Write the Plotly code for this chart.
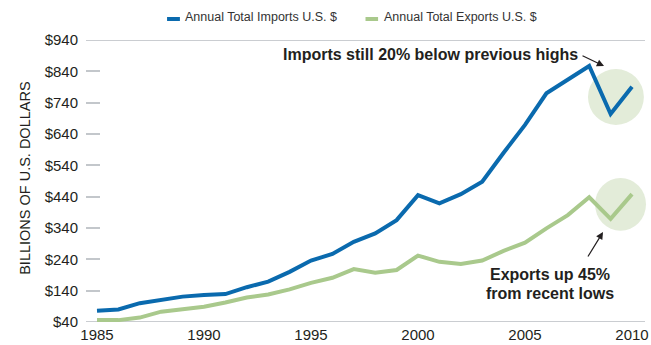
import plotly.graph_objects as go

years = list(range(1985, 2011))
imports = [76, 80, 100, 112, 121, 126, 129, 151, 169, 200, 236, 257, 296, 323,
           365, 445, 419, 448, 488, 580, 669, 770, 814, 857, 704, 791]
exports = [46, 46, 54, 73, 81, 89, 102, 118, 128, 144, 165, 181, 209, 197,
           206, 252, 232, 225, 236, 267, 293, 339, 381, 438, 369, 448]
y_ticks = [40, 140, 240, 340, 440, 540, 640, 740, 840, 940]
y_tick_labels = ["$" + str(v) for v in y_ticks]
x_ticks = [1985, 1990, 1995, 2000, 2005, 2010]
series_names = ["Annual Total Imports U.S. $", "Annual Total Exports U.S. $"]

BLUE = "#0a6aae"
GREEN = "#a9c98c"
CIRCLE = "#e3ecd9"
TXT = "#231f20"
FONT = "Liberation Sans, Arial, sans-serif"

fig = go.Figure()
fig.add_trace(go.Scatter(x=years, y=imports, mode="lines", name=series_names[0],
                         line=dict(color=BLUE, width=4)))
fig.add_trace(go.Scatter(x=years, y=exports, mode="lines", name=series_names[1],
                         line=dict(color=GREEN, width=4)))

shapes = [
    # highlight circles
    dict(type="circle", xref="paper", yref="paper", x0=0.898, x1=0.998, y0=0.6986, y1=0.897,
         fillcolor=CIRCLE, line=dict(width=0), layer="below"),
    dict(type="circle", xref="paper", yref="paper", x0=0.9106, x1=1.0018, y0=0.3238, y1=0.5106,
         fillcolor=CIRCLE, line=dict(width=0), layer="below"),
    # top and bottom rules
    dict(type="line", xref="paper", yref="y", x0=0, x1=1, y0=940, y1=940,
         line=dict(color="#b9bdc2", width=1.5), layer="below"),
    dict(type="line", xref="paper", yref="y", x0=0, x1=1, y0=40, y1=40,
         line=dict(color="#b9bdc2", width=1.5), layer="below"),
    # legend keys
    dict(type="line", xref="paper", yref="paper", x0=0.145, x1=0.168, y0=1.0745, y1=1.0745,
         line=dict(color=BLUE, width=4)),
    dict(type="line", xref="paper", yref="paper", x0=0.5, x1=0.5225, y0=1.0745, y1=1.0745,
         line=dict(color=GREEN, width=4)),
]

annotations = [
    dict(xref="paper", yref="paper", x=0.1735, y=1.0826, xanchor="left", yanchor="middle",
         text=series_names[0], showarrow=False, font=dict(family=FONT, size=12.5, color="#333333")),
    dict(xref="paper", yref="paper", x=0.5295, y=1.0826, xanchor="left", yanchor="middle",
         text=series_names[1], showarrow=False, font=dict(family=FONT, size=12.5, color="#333333")),
    dict(xref="paper", yref="paper", x=0.6154, y=0.950, xanchor="center", yanchor="middle",
         text="<b>Imports still 20% below previous highs</b>", showarrow=False,
         font=dict(family=FONT, size=16, color=TXT)),
    dict(xref="paper", yref="paper", x=0.9267, y=0.9078, text="", showarrow=True,
         ax=-23, ay=-11, arrowhead=2, arrowsize=1.2, arrowwidth=1.2, arrowcolor=TXT),
    dict(xref="paper", yref="paper", x=0.830, y=0.1667, xanchor="center", yanchor="middle",
         text="<b>Exports up 45%</b>", showarrow=False,
         font=dict(family=FONT, size=16, color=TXT)),
    dict(xref="paper", yref="paper", x=0.830, y=0.1028, xanchor="center", yanchor="middle",
         text="<b>from recent lows</b>", showarrow=False,
         font=dict(family=FONT, size=16, color=TXT)),
    dict(xref="paper", yref="paper", x=0.9249, y=0.319, text="", showarrow=True,
         ax=-16, ay=26, arrowhead=2, arrowsize=1.2, arrowwidth=1.2, arrowcolor=TXT),
    dict(xref="paper", yref="paper", x=-0.108, y=0.51, xanchor="center", yanchor="middle",
         text="BILLIONS OF U.S. DOLLARS", textangle=-90, showarrow=False,
         font=dict(family=FONT, size=14.5, color=TXT)),
]

fig.update_layout(
    width=651, height=345,
    margin=dict(l=86, r=6, t=40, b=23),
    paper_bgcolor="white", plot_bgcolor="white",
    showlegend=False,
    shapes=shapes, annotations=annotations,
    font=dict(family=FONT, color=TXT),
    xaxis=dict(range=[1984.486, 2010.607], tickmode="array", tickvals=x_ticks,
               ticktext=[str(v) for v in x_ticks], showgrid=False, zeroline=False,
               showline=False, ticks="", ticklabelstandoff=2, automargin=False,
               ticklabeloverflow="allow",
               tickfont=dict(family=FONT, size=15, color=TXT)),
    yaxis=dict(range=[40, 940], tickmode="array", tickvals=y_ticks, ticktext=y_tick_labels,
               showgrid=False, zeroline=False, showline=False, ticks="inside", ticklen=14,
               tickwidth=1.5, tickcolor="#c3c7cb", ticklabelstandoff=7, automargin=False,
               tickfont=dict(family=FONT, size=15, color=TXT)),
)

fig.write_html("out.html")
